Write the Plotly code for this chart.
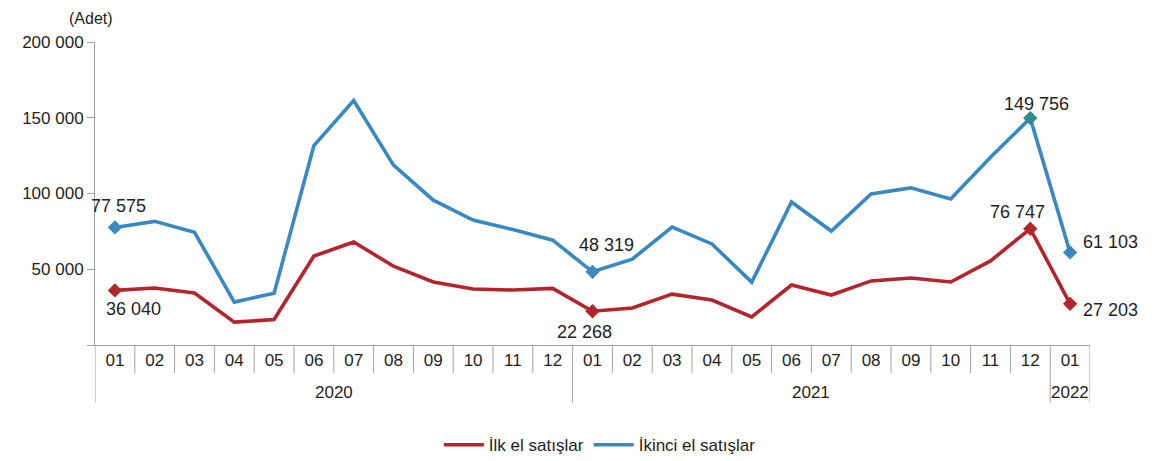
import plotly.graph_objects as go

months = ["01", "02", "03", "04", "05", "06", "07", "08", "09", "10", "11", "12",
          "01", "02", "03", "04", "05", "06", "07", "08", "09", "10", "11", "12",
          "01"]
years = ["2020", "2021", "2022"]
year_spans = [(0, 11), (12, 23), (24, 24)]

ilk_el = [36040, 37600, 34300, 15100, 16800, 58700, 68000, 52000, 41600, 37000, 36300, 37400,
          22268, 24400, 33600, 29700, 18600, 39600, 33000, 42300, 44200, 41600, 55500, 76747,
          27203]
ikinci_el = [77575, 81600, 74400, 28300, 34200, 131600, 161300, 118700, 95600, 82500, 76200, 69200,
             48319, 56700, 77800, 66700, 41500, 94400, 75200, 99700, 103700, 96400, 124000, 149756,
             61103]

labeled_idx = [0, 12, 23, 24]
# (xshift, yshift) for labels of each labeled point
ilk_offsets = [(19, -19), (-8, -21), (-13, 17), (40, -6)]
ikinci_offsets = [(4, 21), (14, 27), (6, 14), (40, 10)]

RED = "#B3252C"
BLUE = "#3A88C2"
TEAL = "#2C8C8E"
AXIS = "#A0A0A0"
TXT = "#1E1E1E"
FONT = "Liberation Sans, Arial, sans-serif"

x = list(range(len(months)))


def fmt(v):
    return f"{v:,}".replace(",", " ")


fig = go.Figure()
fig.add_trace(go.Scatter(x=x, y=ilk_el, mode="lines", name="İlk el satışlar",
                         line=dict(color=RED, width=3.6), hoverinfo="skip"))
fig.add_trace(go.Scatter(x=x, y=ikinci_el, mode="lines", name="İkinci el satışlar",
                         line=dict(color=BLUE, width=3.6), hoverinfo="skip"))
fig.add_trace(go.Scatter(x=[x[i] for i in labeled_idx], y=[ilk_el[i] for i in labeled_idx],
                         mode="markers", showlegend=False, hoverinfo="skip",
                         marker=dict(symbol="diamond", size=11, color=RED)))
fig.add_trace(go.Scatter(x=[x[i] for i in labeled_idx], y=[ikinci_el[i] for i in labeled_idx],
                         mode="markers", showlegend=False, hoverinfo="skip",
                         marker=dict(symbol="diamond", size=11,
                                     color=[BLUE, BLUE, TEAL, BLUE])))

annotations = []
for k, i in enumerate(labeled_idx):
    for series, offs in ((ilk_el, ilk_offsets), (ikinci_el, ikinci_offsets)):
        dx, dy = offs[k]
        annotations.append(dict(x=x[i], y=series[i], xref="x", yref="y", text=fmt(series[i]),
                                showarrow=False, xshift=dx, yshift=dy,
                                font=dict(size=18, color=TXT, family=FONT)))

# year labels
for name, (a, b) in zip(years, year_spans):
    annotations.append(dict(x=(a + b) / 2, y=-0.158, xref="x", yref="paper", text=name,
                            showarrow=False, yanchor="middle",
                            font=dict(size=17, color=TXT, family=FONT)))

annotations.append(dict(x=-0.004, y=1.078, xref="paper", yref="paper", text="(Adet)",
                        showarrow=False, xanchor="center", yanchor="middle",
                        font=dict(size=16, color=TXT, family=FONT)))

shapes = []
# short dividers between months
for i in range(len(months) - 1):
    long = any(i == b for (_, b) in year_spans)
    shapes.append(dict(type="line", xref="x", yref="paper", x0=i + 0.5, x1=i + 0.5,
                       y0=0, y1=-0.19 if long else -0.092,
                       line=dict(color=AXIS, width=1)))
# outer edges
for xe in (-0.5, len(months) - 0.5):
    shapes.append(dict(type="line", xref="x", yref="paper", x0=xe, x1=xe, y0=0, y1=-0.19,
                       line=dict(color=AXIS, width=1)))

yticks = [0, 50000, 100000, 150000, 200000]
yticktext = ["" if v == 0 else fmt(v) for v in yticks]

# page body has an 8px default margin; size the figure to fill the rest
fig.update_layout(
    width=1147, height=453,
    margin=dict(l=87, r=65, t=34, b=116),
    paper_bgcolor="white", plot_bgcolor="white",
    font=dict(family=FONT, color=TXT),
    showlegend=True,
    legend=dict(orientation="h", xref="container", yref="container",
                x=0.516, xanchor="center", y=0.035, yanchor="middle",
                font=dict(size=17, color=TXT, family=FONT), itemwidth=40),
    xaxis=dict(range=[-0.5, len(months) - 0.5], tickvals=x, ticktext=months, ticks="",
               showline=True, linecolor=AXIS, linewidth=1, showgrid=False, zeroline=False,
               automargin=False,
               tickfont=dict(size=17, color=TXT, family=FONT), fixedrange=True),
    yaxis=dict(range=[0, 200000], tickvals=yticks, ticktext=yticktext, ticks="outside",
               ticklen=7, tickcolor=AXIS, showline=True, linecolor=AXIS, linewidth=1,
               showgrid=False, zeroline=False, automargin=False,
               tickfont=dict(size=17, color=TXT, family=FONT), fixedrange=True),
    annotations=annotations,
    shapes=shapes,
)

fig.write_html("out.html")
